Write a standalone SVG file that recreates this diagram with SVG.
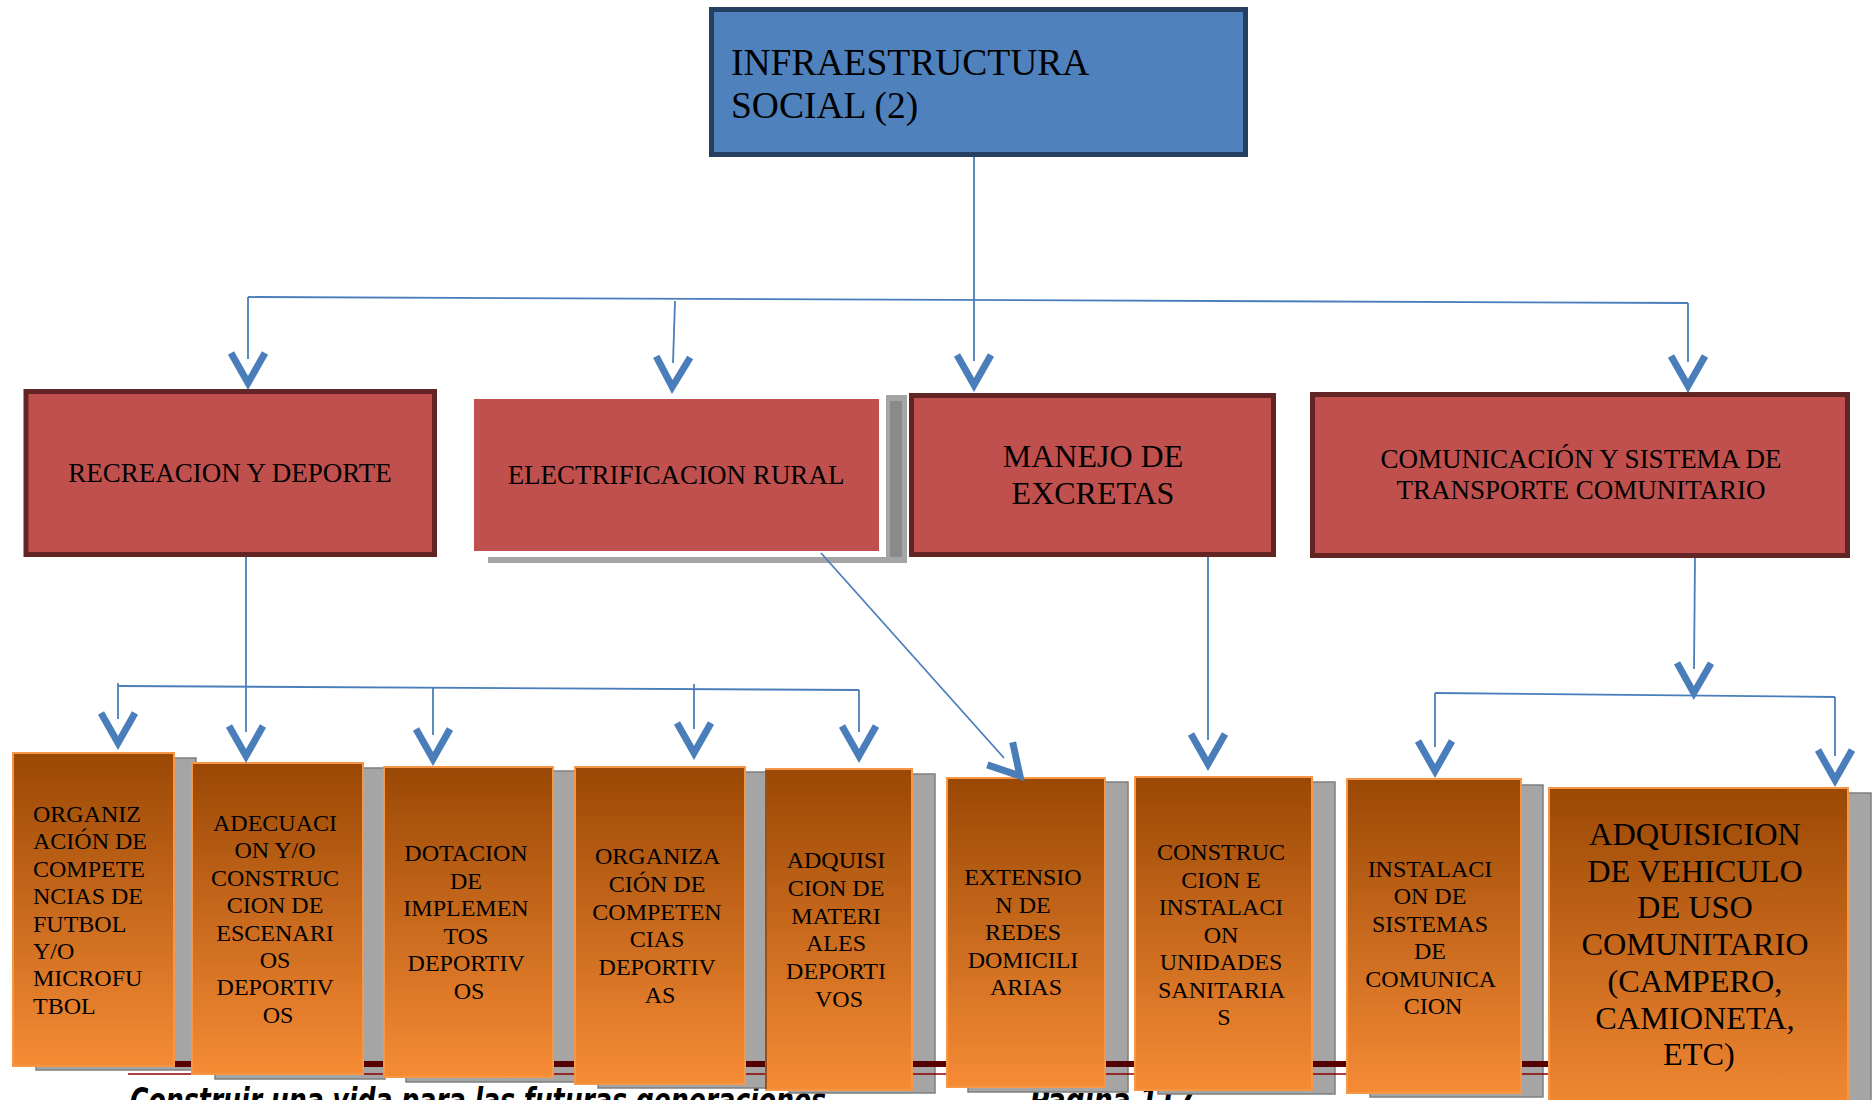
<svg xmlns="http://www.w3.org/2000/svg" width="1872" height="1100" viewBox="0 0 1872 1100">
<style>
.conn{fill:none;stroke:#4A7EBB;stroke-width:1.8;marker-end:url(#chev)}
.line{fill:none;stroke:#4A7EBB;stroke-width:1.8}
.red{fill:#C0504D;stroke:#632523;stroke-width:5}
.org{fill:url(#og);stroke:#F79646;stroke-width:2}
.shd{fill:#A5A5A5;stroke:#7F7F7F;stroke-width:1.5}
.t{font-family:"Liberation Serif","Times New Roman",serif;fill:#000}
.s24{font-size:24px;text-anchor:middle}
.s26{font-size:27px;text-anchor:middle}
.foot{font-family:"DejaVu Sans",sans-serif;font-weight:bold;font-style:italic;fill:#000}
</style>
<defs>
<linearGradient id="og" x1="0" y1="0" x2="0" y2="1">
<stop offset="0" stop-color="#9A4805"/>
<stop offset="1" stop-color="#F68B35"/>
</linearGradient>
<marker id="chev" markerUnits="userSpaceOnUse" viewBox="-20 -30 70 60" markerWidth="70" markerHeight="60" refX="0" refY="0" orient="auto" overflow="visible">
<path d="M -6,-17 L 24,0 L -6,17" fill="none" stroke="#4A7EBB" stroke-width="7" stroke-miterlimit="10"/>
</marker>
</defs>

<g id="footer-text">
<text class="foot" x="130" y="1112" font-size="34" textLength="696" lengthAdjust="spacingAndGlyphs">Construir una vida para las futuras generaciones</text>
<text class="foot" x="1030" y="1112" font-size="34" textLength="165" lengthAdjust="spacingAndGlyphs">Página 117</text>
</g>

<g id="shadows">
<rect class="shd" x="36" y="758" width="160" height="312"/>
<rect class="shd" x="215" y="768" width="170" height="311"/>
<rect class="shd" x="406" y="771" width="170" height="311"/>
<rect class="shd" x="598" y="772" width="168" height="316"/>
<rect class="shd" x="789" y="774" width="146" height="319"/>
<rect class="shd" x="968" y="782" width="160" height="310"/>
<rect class="shd" x="1158" y="782" width="177" height="312"/>
<rect class="shd" x="1370" y="785" width="173" height="312"/>
<rect class="shd" x="1572" y="793" width="299" height="330"/>
</g>

<g id="footer-band">
<rect x="128" y="1061" width="1420" height="6" fill="#560000"/>
<line x1="128" y1="1074" x2="1548" y2="1074" stroke="#8B0000" stroke-width="1.5"/>
</g>

<g id="n-infraestructura">
<rect x="711.5" y="9.5" width="534" height="145" fill="#4F81BD" stroke="#243F60" stroke-width="5"/>
<text class="t" font-size="37.5" x="731" y="75">INFRAESTRUCTURA</text>
<text class="t" font-size="37.5" x="731" y="118">SOCIAL (2)</text>
</g>

<g id="n-recreacion">
<rect class="red" x="26" y="391.5" width="408.5" height="163"/>
<text class="t s26" x="230" y="482">RECREACION Y DEPORTE</text>
</g>

<g id="n-electrificacion">
<rect x="886" y="395" width="21" height="168" fill="#A5A5A5"/>
<rect x="890" y="401" width="12" height="157" fill="#8A8A8A"/>
<rect x="488" y="557" width="419" height="6" fill="#A5A5A5"/>
<rect x="474" y="399" width="405" height="152" fill="#C0504D"/>
<text class="t s26" x="676" y="484">ELECTRIFICACION RURAL</text>
</g>

<g id="n-excretas">
<rect class="red" x="911.5" y="395.5" width="362" height="159"/>
<text class="t" font-size="32" text-anchor="middle" x="1093" y="467">MANEJO DE</text>
<text class="t" font-size="32" text-anchor="middle" x="1093" y="504">EXCRETAS</text>
</g>

<g id="n-comunicacion">
<rect class="red" x="1312.5" y="394.5" width="535" height="161"/>
<text class="t s26" x="1581" y="468">COMUNICACIÓN Y SISTEMA DE</text>
<text class="t s26" x="1581" y="499">TRANSPORTE COMUNITARIO</text>
</g>

<g id="n-org-futbol">
<rect class="org" x="13" y="753" width="161" height="313"/>
<text class="t" font-size="24">
<tspan x="33" y="822">ORGANIZ</tspan>
<tspan x="33" y="849.4">ACIÓN DE</tspan>
<tspan x="33" y="876.8">COMPETE</tspan>
<tspan x="33" y="904.2">NCIAS DE</tspan>
<tspan x="33" y="931.6">FUTBOL</tspan>
<tspan x="33" y="959">Y/O</tspan>
<tspan x="33" y="986.4">MICROFU</tspan>
<tspan x="33" y="1013.8">TBOL</tspan>
</text>
</g>

<g id="n-adecuacion">
<rect class="org" x="192" y="763" width="171" height="311"/>
<text class="t s24">
<tspan x="278" y="831">ADECUACI</tspan>
<tspan x="278" y="858.4">ON Y/O</tspan>
<tspan x="278" y="885.8">CONSTRUC</tspan>
<tspan x="278" y="913.2">CION DE</tspan>
<tspan x="278" y="940.6">ESCENARI</tspan>
<tspan x="278" y="968">OS</tspan>
<tspan x="278" y="995.4">DEPORTIV</tspan>
<tspan x="278" y="1022.8">OS</tspan>
</text>
</g>

<g id="n-dotacion">
<rect class="org" x="384" y="767" width="169" height="310"/>
<text class="t s24">
<tspan x="469" y="861">DOTACION</tspan>
<tspan x="469" y="888.6">DE</tspan>
<tspan x="469" y="916.2">IMPLEMEN</tspan>
<tspan x="469" y="943.8">TOS</tspan>
<tspan x="469" y="971.4">DEPORTIV</tspan>
<tspan x="469" y="999">OS</tspan>
</text>
</g>

<g id="n-org-deportivas">
<rect class="org" x="575" y="767" width="170" height="317"/>
<text class="t s24">
<tspan x="660" y="864">ORGANIZA</tspan>
<tspan x="660" y="891.8">CIÓN DE</tspan>
<tspan x="660" y="919.6">COMPETEN</tspan>
<tspan x="660" y="947.4">CIAS</tspan>
<tspan x="660" y="975.2">DEPORTIV</tspan>
<tspan x="660" y="1003">AS</tspan>
</text>
</g>

<g id="n-adquisicion-materiales">
<rect class="org" x="766" y="769" width="146" height="321"/>
<line x1="766" y1="770" x2="766" y2="1089" stroke="#7A3A08" stroke-width="1.5"/>
<text class="t s24">
<tspan x="839" y="868">ADQUISI</tspan>
<tspan x="839" y="895.8">CION DE</tspan>
<tspan x="839" y="923.6">MATERI</tspan>
<tspan x="839" y="951.4">ALES</tspan>
<tspan x="839" y="979.2">DEPORTI</tspan>
<tspan x="839" y="1007">VOS</tspan>
</text>
</g>

<g id="n-extension">
<rect class="org" x="947" y="778" width="158" height="309"/>
<text class="t s24">
<tspan x="1026" y="885">EXTENSIO</tspan>
<tspan x="1026" y="912.5">N DE</tspan>
<tspan x="1026" y="940">REDES</tspan>
<tspan x="1026" y="967.5">DOMICILI</tspan>
<tspan x="1026" y="995">ARIAS</tspan>
</text>
</g>

<g id="n-construccion">
<rect class="org" x="1135" y="777" width="177" height="313"/>
<text class="t s24">
<tspan x="1224" y="860">CONSTRUC</tspan>
<tspan x="1224" y="887.5">CION E</tspan>
<tspan x="1224" y="915">INSTALACI</tspan>
<tspan x="1224" y="942.5">ON</tspan>
<tspan x="1224" y="970">UNIDADES</tspan>
<tspan x="1224" y="997.5">SANITARIA</tspan>
<tspan x="1224" y="1025">S</tspan>
</text>
</g>

<g id="n-instalacion">
<rect class="org" x="1347" y="779" width="174" height="314"/>
<text class="t s24">
<tspan x="1433" y="877">INSTALACI</tspan>
<tspan x="1433" y="904.4">ON DE</tspan>
<tspan x="1433" y="931.8">SISTEMAS</tspan>
<tspan x="1433" y="959.2">DE</tspan>
<tspan x="1433" y="986.6">COMUNICA</tspan>
<tspan x="1433" y="1014">CION</tspan>
</text>
</g>

<g id="n-vehiculo">
<rect class="org" x="1549" y="788" width="299" height="335"/>
<text class="t" font-size="32.3" text-anchor="middle">
<tspan x="1699" y="845">ADQUISICION</tspan>
<tspan x="1699" y="881.7">DE VEHICULO</tspan>
<tspan x="1699" y="918.4">DE USO</tspan>
<tspan x="1699" y="955.1">COMUNITARIO</tspan>
<tspan x="1699" y="991.8">(CAMPERO,</tspan>
<tspan x="1699" y="1028.5">CAMIONETA,</tspan>
<tspan x="1699" y="1065.2">ETC)</tspan>
</text>
</g>

<g id="connectors">
<line class="line" x1="248" y1="297" x2="1688" y2="303"/>
<line class="conn" x1="248" y1="297" x2="248" y2="359"/>
<line class="conn" x1="675" y1="301" x2="673" y2="363"/>
<line class="conn" x1="974" y1="157" x2="974" y2="361"/>
<line class="conn" x1="1688" y1="303" x2="1688" y2="362"/>
<line class="conn" x1="246" y1="557" x2="246" y2="732"/>
<line class="line" x1="119" y1="686" x2="859" y2="690"/>
<line class="conn" x1="118" y1="683" x2="118" y2="719"/>
<line class="conn" x1="433" y1="688" x2="433" y2="735"/>
<line class="conn" x1="694" y1="684" x2="694" y2="729"/>
<line class="conn" x1="859" y1="690" x2="859" y2="732"/>
<line class="conn" x1="821" y1="553" x2="1004" y2="758"/>
<line class="conn" x1="1208" y1="557" x2="1208" y2="740"/>
<line class="conn" x1="1695" y1="558" x2="1694" y2="669"/>
<line class="line" x1="1435" y1="693" x2="1835" y2="697"/>
<line class="conn" x1="1435" y1="693" x2="1435" y2="747"/>
<line class="conn" x1="1835" y1="697" x2="1835" y2="756"/>
</g>
</svg>
